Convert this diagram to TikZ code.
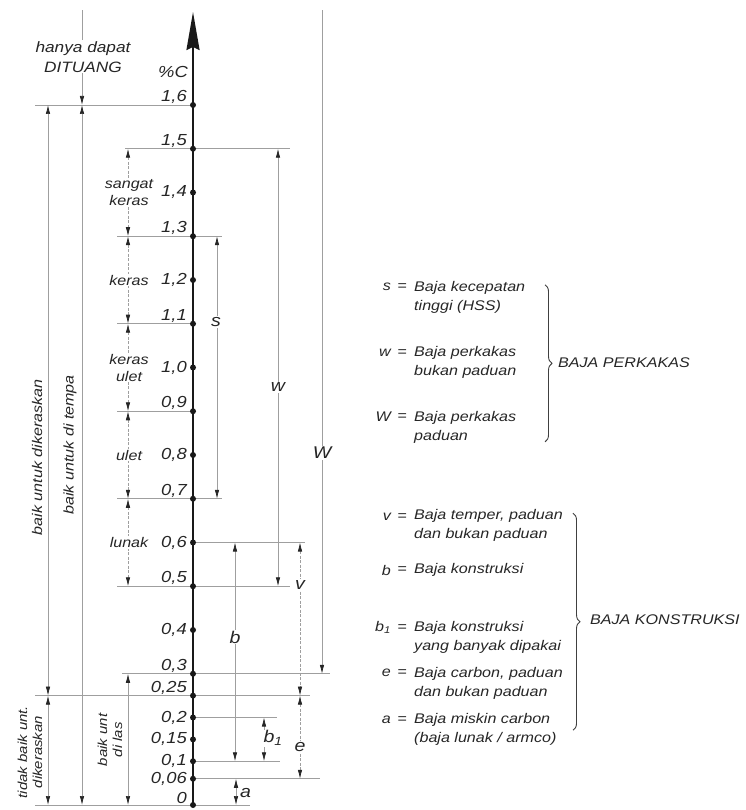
\documentclass[tikz,border=0pt]{standalone}
\usepackage{fontspec}
\setmainfont{Liberation Sans}[FakeStretch=1.15]
\usetikzlibrary{arrows.meta,decorations.pathreplacing}
\tikzstyle{tickdot} = [circle, minimum width=6pt, fill=black!90, inner sep=0pt]
\tikzstyle{ext} = [gray!75, line width=0.7pt]
\tikzstyle{dim} = [gray!75, line width=0.7pt]
\tikzstyle{dimdash} = [dim, dash pattern=on 3pt off 1.5pt]
\tikzstyle{num} = [inner sep=0pt, font=\fontsize{16}{16}\selectfont\itshape, text=black!85]
\tikzstyle{lbl} = [inner sep=1pt, font=\fontsize{14}{17}\selectfont\itshape, text=black!85, align=center]
\tikzstyle{sym} = [inner sep=1pt, fill=white, font=\fontsize{17}{17}\selectfont\itshape, text=black!85]
\tikzstyle{leg} = [inner sep=0pt, font=\fontsize{14}{19}\selectfont\itshape, text=black!85, align=left]
\tikzstyle{grp} = [decorate, decoration={brace, amplitude=7pt}, line width=0.9pt, black!75]

\begin{document}
\begin{tikzpicture}[x=1pt, y=437.5pt, >={Latex[length=9pt,width=4.5pt,color=black!85]}]
  \def\xaxis{193}
  \def\xtop{1.817}
  \path[use as bounding box] (0,-0.0114) rectangle (745,1.84);

  % extension lines
  \foreach \c/\l/\r in {1.6/35/193, 1.5/125/290, 1.3/117/222, 1.1/117/193, 0.9/117/193,
      0.7/117/222, 0.6/193/305, 0.5/117/290, 0.3/122/330, 0.25/35/310, 0.2/193/277,
      0.1/193/280, 0.06/193/320, 0/35/250}
    \draw[ext] (\l,\c) -- (\r,\c);

  % dimension lines, left
  \draw[dim,<->] (48,1.6) -- (48,0.25);
  \draw[dim,<->] (48,0.25) -- (48,0);
  \draw[dim,->] (82,\xtop) -- (82,1.6);
  \draw[dim,<->] (82,1.6) -- (82,0);
  \draw[dim,<->] (128,0.3) -- (128,0);
  \foreach \a/\b in {1.5/1.3, 1.3/1.1, 1.1/0.9, 0.9/0.7, 0.7/0.5}
    \draw[dimdash,<->] (128,\a) -- (128,\b);

  % dimension lines, right
  \draw[dim,<->] (217,1.3) -- (217,0.7);
  \draw[dim,<->] (278,1.5) -- (278,0.5);
  \draw[dim,->] (322,\xtop) -- (322,0.3);
  \draw[dim,<->] (235,0.6) -- (235,0.1);
  \draw[dim,<->] (264,0.2) -- (264,0.1);
  \draw[dimdash,<->] (300,0.6) -- (300,0.25);
  \draw[dimdash,<->] (300,0.25) -- (300,0.06);
  \draw[dim,<->] (236,0.06) -- (236,0);

  % axis %C
  \draw[black!90, line width=2pt, -{Stealth[length=38pt,width=13pt,inset=3pt]}] (\xaxis,0) -- (\xaxis,1.8126);
  \foreach \c [count=\i] in {1.6,1.5,1.4,1.3,1.2,1.1,1.0,0.9,0.8,0.7,0.6,0.5,0.4,0.3,0.25,0.2,0.15,0.1,0.06,0}
    \node[tickdot] (d\i) at (\xaxis,\c) {};
  \foreach \c/\t [count=\i] in {1.6/{1,6}, 1.5/{1,5}, 1.3/{1,3}, 1.1/{1,1}, 0.9/{0,9},
      0.7/{0,7}, 0.5/{0,5}, 0.3/{0,3}, 0.25/{0,25}, 0/0}
    \node[num, anchor=south east] (tu\i) at (187,\c+0.003) {\t};
  \foreach \c/\t [count=\i] in {1.4/{1,4}, 1.2/{1,2}, 1.0/{1,0}, 0.8/{0,8}, 0.6/{0,6},
      0.4/{0,4}, 0.2/{0,2}, 0.15/{0,15}, 0.1/{0,1}, 0.06/{0,06}}
    \node[num, anchor=east] (tc\i) at (187,\c) {\t};
  \node[num, anchor=east] (pc) at (188,1.675) {\%C};

  % labels left
  \node[lbl, fill=white, font=\fontsize{15}{20}\selectfont\itshape] (dituang) at (83,1.71) {hanya dapat\\DITUANG};
  \node[lbl, rotate=90] (keras) at (37,0.795) {baik untuk dikeraskan};
  \node[lbl, rotate=90] (tempa) at (70,0.823) {baik untuk di tempa};
  \node[lbl, rotate=90, font=\fontsize{13}{15}\selectfont\itshape] (tidak) at (30,0.121) {tidak baik unt.\\dikeraskan};
  \node[lbl, rotate=90, font=\fontsize{13}{15}\selectfont\itshape] (las) at (110,0.149) {baik unt\\di las};
  \foreach \c/\t [count=\i] in {1.4/{sangat\\keras}, 1.2/keras, 1.0/{keras\\ulet}, 0.8/ulet, 0.6/lunak}
    \node[lbl, fill=white] (h\i) at (129,\c) {\t};

  % dimension letters
  \node[sym] (ls) at (216,1.104) {s};
  \node[sym] (lw) at (278,0.955) {w};
  \node[sym] (lW) at (322,0.805) {W};
  \node[sym] (lb) at (235,0.384) {b};
  \node[sym] (lv) at (300,0.503) {v};
  \node[sym] (le) at (300,0.1326) {e};
  \node[sym] (lb1) at (273,0.153) {b\textsubscript{1}};
  \node[sym, fill=none, anchor=west] (la) at (239,0.0274) {a};

  % legend
  \foreach \s/\ca/\cm/\t [count=\i] in {s/1.184/1.161/{Baja kecepatan\\tinggi (HSS)},
      w/1.033/1.011/{Baja perkakas\\bukan paduan},
      W/0.887/0.864/{Baja perkakas\\paduan},
      v/0.658/0.638/{Baja temper, paduan\\dan bukan paduan},
      b/0.537/0.537/{Baja konstruksi},
      {b\textsubscript{1}}/0.405/0.383/{Baja konstruksi\\yang banyak dipakai},
      e/0.302/0.279/{Baja carbon, paduan\\dan bukan paduan},
      a/0.194/0.174/{Baja miskin carbon\\(baja lunak / armco)}}
    {
    \node[leg, anchor=east] (ks\i) at (391,\ca) {\s};
    \node[leg] (ke\i) at (402,\ca) {=};
    \node[leg, anchor=west] (kt\i) at (414,\cm) {\t};
    }
  \draw[grp] (545,1.189) -- (545,0.830);
  \node[leg, anchor=west] (perkakas) at (558,1.010) {BAJA PERKAKAS};
  \draw[grp] (573,0.667) -- (573,0.171);
  \node[leg, anchor=west] (konstruksi) at (590,0.423) {BAJA KONSTRUKSI};
\end{tikzpicture}
\end{document}
